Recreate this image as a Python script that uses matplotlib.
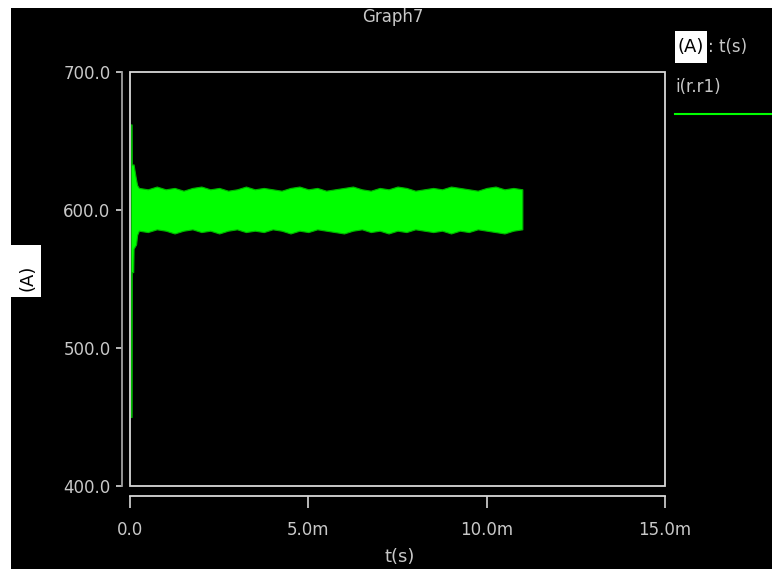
import numpy as np
import matplotlib
matplotlib.use("Agg")
import matplotlib.pyplot as plt
from matplotlib.patches import Rectangle
from matplotlib.ticker import FixedLocator, FuncFormatter

# current i(r.r1) envelope (time in ms, current in A)
t_start = [0.02, 0.045, 0.05, 0.09, 0.10, 0.17, 0.20]
upper_start = [662, 662, 633, 633, 633, 622, 618]
lower_start = [450, 450, 555, 555, 572, 575, 582]

t_band = np.arange(0.25, 11.001, 0.25)
upper_band = [616, 615, 617, 615, 616, 614, 616, 617, 615, 616, 614, 615,
              617, 615, 616, 615, 614, 616, 617, 615, 616, 614, 615, 616,
              617, 615, 614, 616, 615, 617, 616, 614, 615, 616, 615, 617,
              616, 615, 614, 616, 617, 615, 616, 615]
lower_band = [585, 584, 586, 585, 583, 585, 586, 584, 585, 583, 585, 586,
              584, 585, 584, 586, 585, 583, 585, 584, 586, 585, 584, 583,
              585, 586, 584, 585, 583, 585, 584, 586, 585, 584, 585, 583,
              585, 584, 586, 585, 584, 583, 585, 586]

y_ticks = [400, 500, 600, 700]
x_ticks = [0, 5, 10, 15]

t = np.concatenate([t_start, t_band])
upper = np.concatenate([upper_start, upper_band])
lower = np.concatenate([lower_start, lower_band])

plt.rcParams['font.family'] = ['DejaVu Sans']
txt = '#c8c8c8'
W, H = 772, 569


def fx(px):
    return px / W


def fy(py):
    return 1 - py / H


fig = plt.figure(figsize=(7.72, 5.69), dpi=100, facecolor='white')
# black panel, leaving thin white strips on the left and top
fig.patches.append(Rectangle((fx(11), 0), 1, fy(8), transform=fig.transFigure,
                             facecolor='black', edgecolor='none', zorder=-10))

ax = fig.add_axes([fx(130), fy(486), 535 / W, 414 / H])
ax.set_facecolor('black')

ax.fill_between(t, lower, upper, facecolor='#00ff00',
                edgecolor='#00b400', linewidth=0.8)

ax.set_xlim(0, 15)
ax.set_ylim(400, 700)

# box around the plot area
ax.add_patch(Rectangle((0, 0), 1, 1, transform=ax.transAxes, fill=False,
                       edgecolor='#d8d8d8', linewidth=1.3, clip_on=False, zorder=5))

for s in ['top', 'right']:
    ax.spines[s].set_visible(False)
ax.spines['left'].set_position(('outward', 6))
ax.spines['bottom'].set_position(('outward', 7))
ax.spines['left'].set_color('#a0a0a0')
ax.spines['bottom'].set_color('#d8d8d8')
ax.spines['left'].set_linewidth(1.3)
ax.spines['bottom'].set_linewidth(1.3)

ax.yaxis.set_major_locator(FixedLocator(y_ticks))
ax.xaxis.set_major_locator(FixedLocator(x_ticks))
ax.yaxis.set_major_formatter(FuncFormatter(lambda v, p: '%.1f' % v))
ax.xaxis.set_major_formatter(FuncFormatter(lambda v, p: '0.0' if v == 0 else '%.1fm' % v))
ax.tick_params(axis='y', length=4, width=1.2, color='#d8d8d8', labelcolor=txt,
               labelsize=12, pad=4)
ax.tick_params(axis='x', length=8.5, width=1.2, color='#d8d8d8', labelcolor=txt,
               labelsize=12, pad=10)

fig.text(fx(393), fy(17), 'Graph7', color=txt, fontsize=12, ha='center', va='center')
fig.text(fx(400), fy(557), 't(s)', color=txt, fontsize=13, ha='center', va='center')

# y label in a white box
fig.patches.append(Rectangle((fx(11), fy(297)), 30 / W, 52 / H, transform=fig.transFigure,
                             facecolor='white', edgecolor='none'))
fig.text(fx(27), fy(278), '(A)', color='black', fontsize=13, rotation=90,
         ha='center', va='center')

# legend on the right
fig.patches.append(Rectangle((fx(675), fy(63)), 32 / W, 32 / H, transform=fig.transFigure,
                             facecolor='white', edgecolor='none'))
fig.text(fx(691), fy(47), '(A)', color='black', fontsize=13, ha='center', va='center')
fig.text(fx(708), fy(47), ': t(s)', color=txt, fontsize=12, ha='left', va='center')
fig.text(fx(675), fy(87), 'i(r.r1)', color=txt, fontsize=12, ha='left', va='center')
fig.lines.append(plt.Line2D([fx(675), 1], [fy(114)] * 2, transform=fig.transFigure,
                            color='#00ff00', linewidth=1.5))

fig.savefig('out.png', dpi=100, facecolor=fig.get_facecolor())
